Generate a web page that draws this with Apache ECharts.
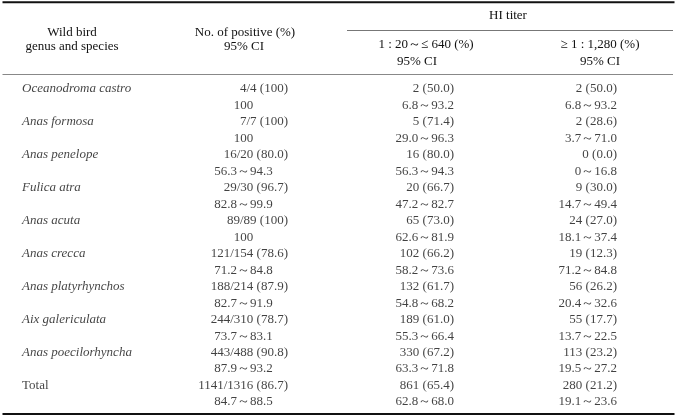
<!DOCTYPE html>
<html>
<head>
<meta charset="utf-8">
<script src="https://cdn.jsdelivr.net/npm/echarts@6/dist/echarts.min.js"></script>
<style>html,body{margin:0;padding:0;background:#fff}#c{width:677px;height:416px}</style>
</head>
<body>
<div id="c"></div>
<script>
// ---- table data ----
const species = ['Oceanodroma castro','Anas formosa','Anas penelope','Fulica atra','Anas acuta','Anas crecca','Anas platyrhynchos','Aix galericulata','Anas poecilorhyncha','Total'];
const positive = ['4/4 (100)','7/7 (100)','16/20 (80.0)','29/30 (96.7)','89/89 (100)','121/154 (78.6)','188/214 (87.9)','244/310 (78.7)','443/488 (90.8)','1141/1316 (86.7)'];
const positiveCI = ['100','100','56.3～94.3','82.8～99.9','100','71.2～84.8','82.7～91.9','73.7～83.1','87.9～93.2','84.7～88.5'];
const lowTiter = ['2 (50.0)','5 (71.4)','16 (80.0)','20 (66.7)','65 (73.0)','102 (66.2)','132 (61.7)','189 (61.0)','330 (67.2)','861 (65.4)'];
const lowTiterCI = ['6.8～93.2','29.0～96.3','56.3～94.3','47.2～82.7','62.6～81.9','58.2～73.6','54.8～68.2','55.3～66.4','63.3～71.8','62.8～68.0'];
const highTiter = ['2 (50.0)','2 (28.6)','0 (0.0)','9 (30.0)','24 (27.0)','19 (12.3)','56 (26.2)','55 (17.7)','113 (23.2)','280 (21.2)'];
const highTiterCI = ['6.8～93.2','3.7～71.0','0～16.8','14.7～49.4','18.1～37.4','71.2～84.8','20.4～32.6','13.7～22.5','19.5～27.2','19.1～23.6'];
const headerLeft1 = ['Wild bird','genus and species'];
const headerLeft2 = ['No. of positive (%)','95% CI'];
const headerGroup = 'HI titer';
const headerLow = ['1 : 20～≤ 640 (%)','95% CI'];
const headerHigh = ['≥ 1 : 1,280 (%)','95% CI'];

// ---- layout ----
const FONT = '"Liberation Serif", "Times New Roman", serif';
const FS = 13;
const COLOR = '#111';
const rowKeys = [];
for (let i = 0; i < species.length * 2; i++) rowKeys.push('r' + i);

function colSeries(values, ciValues, x, align, ciX, ciAlign, italicMain) {
  const data = [];
  values.forEach((v, i) => {
    const item = { value: [x, 'r' + (2 * i)], text: v, label: { align: align } };
    if (italicMain && species[i] !== 'Total') item.label.fontStyle = 'italic';
    data.push(item);
    if (ciValues) data.push({ value: [ciX, 'r' + (2 * i + 1)], text: ciValues[i], label: { align: ciAlign } });
  });
  return {
    type: 'scatter',
    symbolSize: 0,
    silent: true,
    data: data,
    label: {
      show: true,
      position: 'inside',
      verticalAlign: 'middle',
      fontFamily: FONT,
      fontSize: FS,
      color: COLOR,
      formatter: p => p.data.text
    }
  };
}

function hText(text, x, y) {
  return { type: 'text', silent: true, style: { text: text, x: x, y: y, align: 'center', verticalAlign: 'middle', fontFamily: FONT, fontSize: FS, fill: COLOR } };
}
function hLine(x1, x2, y, w, c) {
  return { type: 'line', silent: true, shape: { x1: x1, y1: y, x2: x2, y2: y }, style: { stroke: c, lineWidth: w } };
}

const chart = echarts.init(document.getElementById('c'), null, { renderer: 'canvas' });
chart.setOption({
  animation: false,
  grid: { left: 0, right: 0, top: 80.8, bottom: 5.8 },
  xAxis: { type: 'value', min: 0, max: 677, show: false },
  yAxis: { type: 'category', inverse: true, show: false, data: rowKeys },
  series: [
    colSeries(species, null, 22, 'left', 0, 'left', true),
    colSeries(positive, positiveCI, 288, 'right', 243.5, 'center', false),
    colSeries(lowTiter, lowTiterCI, 454, 'right', 454, 'right', false),
    colSeries(highTiter, highTiterCI, 617, 'right', 617, 'right', false)
  ],
  graphic: [
    hLine(2.5, 674.5, 2.3, 2, '#111'),
    hLine(347, 673, 30.5, 1, '#777'),
    hLine(2.5, 673, 74.5, 1.2, '#888'),
    hLine(2.5, 674.5, 414, 2, '#111'),
    hText(headerLeft1[0], 72, 33),
    hText(headerLeft1[1], 72, 47),
    hText(headerLeft2[0], 245, 33),
    hText(headerLeft2[1], 244, 47),
    hText(headerGroup, 508, 16),
    hText(headerLow[0], 426, 45),
    hText(headerLow[1], 417, 62),
    hText(headerHigh[0], 600, 45),
    hText(headerHigh[1], 600, 62)
  ]
});
</script>
</body>
</html>
